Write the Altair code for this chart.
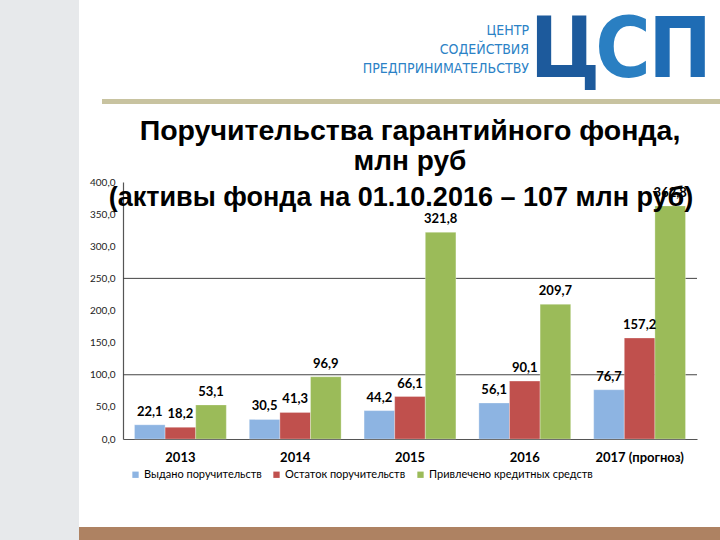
import altair as alt
import pandas as pd

# ---- data ----
years = ["2013", "2014", "2015", "2016", "2017 (прогноз)"]
series = ["Выдано поручительств", "Остаток поручительств", "Привлечено кредитных средств"]
issued = [22.1, 30.5, 44.2, 56.1, 76.7]
balance = [18.2, 41.3, 66.1, 90.1, 157.2]
attracted = [53.1, 96.9, 321.8, 209.7, 362.8]
colors = ["#8db4e2", "#c0504d", "#9bbb59"]
y_ticks = [0, 50, 100, 150, 200, 250, 300, 350, 400]
grid_vals = [100, 250]

title_lines = [
    "Поручительства гарантийного фонда,",
    "млн руб",
    "(активы фонда на 01.10.2016 – 107 млн руб)",
]
logo_lines = ["ЦЕНТР", "СОДЕЙСТВИЯ", "ПРЕДПРИНИМАТЕЛЬСТВУ"]

rows = []
for s, vals in zip(series, [issued, balance, attracted]):
    for y, v in zip(years, vals):
        rows.append({"year": y, "series": s, "value": v,
                     "label": f"{v:.1f}".replace(".", ",")})
df = pd.DataFrame(rows)
one = pd.DataFrame({"d": [0]})
grid_df = pd.DataFrame({"value": grid_vals})

# plot origin in page pixels
OX, OY = 123, 182
PW, PH = 574, 257
NARROW = "'Liberation Sans Narrow', 'DejaVu Sans Condensed', 'Arial Narrow', sans-serif"


def X(px):
    return px - OX


def Y(py):
    return py - OY


x_scale = alt.Scale(paddingInner=0.2, paddingOuter=0.1)
x_axis = alt.Axis(title=None, labelAngle=0, labelFont="Lato",
                  labelFontSize=13, labelFontWeight="bold",
                  labelColor="#000000", labelPadding=12, ticks=False,
                  domainColor="#555555", domainWidth=1.2)
y_scale = alt.Scale(domain=[0, 400], nice=False)
y_axis = alt.Axis(title=None, values=y_ticks, grid=False, ticks=False,
                  labelOverlap=False, labelFont="Lato", labelFontSize=10,
                  labelColor="#222222", labelPadding=8,
                  domainColor="#555555", domainWidth=1.2,
                  labelExpr="replace(format(datum.value, '.1f'), '.', ',')")

# decorations
left_strip = alt.Chart(one).mark_rect(color="#e7e9eb").encode(
    x=alt.value(X(0)), x2=alt.value(X(79)), y=alt.value(Y(0)), y2=alt.value(Y(540)))
tan_bar = alt.Chart(one).mark_rect(color="#c8c3a0").encode(
    x=alt.value(X(102)), x2=alt.value(X(720)), y=alt.value(Y(99)), y2=alt.value(Y(104)))
brown_bar = alt.Chart(one).mark_rect(color="#ae8262").encode(
    x=alt.value(X(79)), x2=alt.value(X(720)), y=alt.value(Y(527)), y2=alt.value(Y(540)))

grid = alt.Chart(grid_df).mark_rule(color="#444444", strokeWidth=1).encode(
    y=alt.Y("value:Q", scale=y_scale, axis=y_axis), x=alt.value(0), x2=alt.value(PW))

bars = alt.Chart(df).mark_bar(stroke="#ffffff", strokeWidth=0.3).encode(
    x=alt.X("year:N", sort=years, scale=x_scale, axis=x_axis),
    xOffset=alt.XOffset("series:N", sort=series, scale=alt.Scale(paddingInner=0, paddingOuter=0)),
    y=alt.Y("value:Q", scale=y_scale, axis=y_axis),
    color=alt.Color("series:N", sort=series,
                    scale=alt.Scale(domain=series, range=colors),
                    legend=alt.Legend(title=None, orient="none", direction="horizontal",
                                      legendX=7, legendY=287, symbolType="square",
                                      symbolSize=40, symbolStrokeWidth=0,
                                      labelFont="Lato", labelFontSize=11, labelLimit=0,
                                      labelColor="#000000", labelOffset=3,
                                      columnPadding=9, padding=0)),
)

labels = alt.Chart(df).mark_text(baseline="bottom", dy=-6, font="Lato",
                                 fontSize=13, fontWeight="bold", color="#000000").encode(
    x=alt.X("year:N", sort=years, scale=x_scale, axis=x_axis),
    xOffset=alt.XOffset("series:N", sort=series, scale=alt.Scale(paddingInner=0, paddingOuter=0)),
    y=alt.Y("value:Q", scale=y_scale, axis=y_axis),
    text="label:N",
)

title_layers = []
for txt, cx, by, fs in zip(title_lines, [410, 410, 401], [140, 170, 206], [28.5, 28, 27]):
    title_layers.append(
        alt.Chart(one).mark_text(font="Liberation Sans", fontSize=fs, fontWeight="bold",
                                 color="#000000", align="center", baseline="alphabetic").encode(
            x=alt.value(X(cx)), y=alt.value(Y(by)), text=alt.value(txt)))

logo_layers = []
for txt, by in zip(logo_lines, [35, 54, 73]):
    logo_layers.append(
        alt.Chart(one).mark_text(font=NARROW, fontSize=14, color="#2b82c6",
                                 align="right", baseline="alphabetic").encode(
            x=alt.value(X(529)), y=alt.value(Y(by)), text=alt.value(txt)))

for ch, cx, col in zip(["Ц", "С", "П"], [565, 623, 680], ["#1d5a9c", "#2a7fc2", "#1f6cb4"]):
    logo_layers.append(
        alt.Chart(one).mark_text(font=NARROW, fontSize=84, fontWeight="bold",
                                 color=col, align="center", baseline="alphabetic").encode(
            x=alt.value(X(cx)), y=alt.value(Y(77)), text=alt.value(ch)))

chart = alt.layer(left_strip, tan_bar, brown_bar, grid, bars, labels,
                  *title_layers, *logo_layers).properties(
    width=PW, height=PH,
    padding={"left": OX, "top": OY, "right": 720 - OX - PW, "bottom": 540 - OY - PH},
    autosize=alt.AutoSizeParams(type="none"),
    background="#ffffff",
).configure_view(stroke=None)

chart.save("out.html", embed_options={"renderer": "svg", "actions": False})
